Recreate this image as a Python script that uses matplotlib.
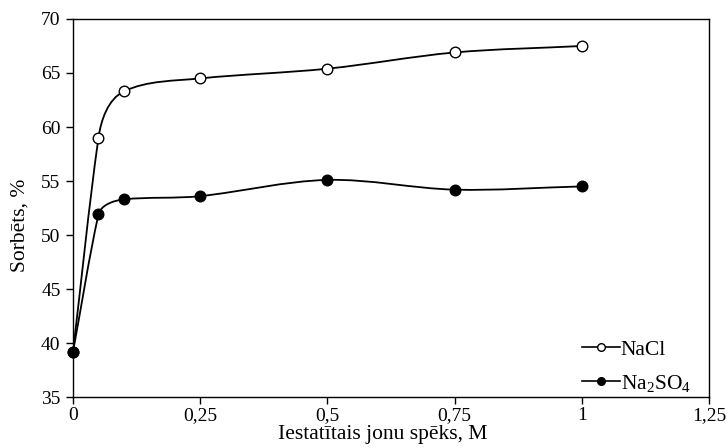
import numpy as np
import matplotlib
matplotlib.use('Agg')
import matplotlib.pyplot as plt
from matplotlib.path import Path
from matplotlib.patches import PathPatch
from matplotlib.lines import Line2D
from matplotlib.ticker import FuncFormatter

plt.rcParams['font.family'] = ['Liberation Serif', 'DejaVu Serif']
plt.rcParams['mathtext.default'] = 'regular'

# data
ionic_strength = [0, 0.05, 0.1, 0.25, 0.5, 0.75, 1.0]
nacl = [39.2, 59.0, 63.3, 64.5, 65.4, 66.9, 67.5]
na2so4 = [39.2, 51.9, 53.3, 53.6, 55.1, 54.2, 54.5]
series_labels = ['NaCl', 'Na$_2$SO$_4$']
x_ticks = [0, 0.25, 0.5, 0.75, 1.0, 1.25]
y_ticks = [35, 40, 45, 50, 55, 60, 65, 70]


def smooth_path(xs, ys, sx, sy, k=1.0):
    # bezier through the points; tangent leans to the longer neighbour segment,
    # handle length from the segment itself so short segments don't overshoot
    p = np.column_stack([np.asarray(xs) / sx, np.asarray(ys) / sy])
    n = len(p)
    tang = []
    for i in range(n):
        d = np.zeros(2)
        if i > 0:
            v = p[i] - p[i - 1]
            d += v * np.hypot(*v)
        if i < n - 1:
            v = p[i + 1] - p[i]
            d += v * np.hypot(*v)
        tang.append(d / np.hypot(*d))
    verts = [p[0]]
    codes = [Path.MOVETO]
    for i in range(n - 1):
        seg = np.hypot(*(p[i + 1] - p[i])) / 3 * k
        verts += [p[i] + tang[i] * seg, p[i + 1] - tang[i + 1] * seg, p[i + 1]]
        codes += [Path.CURVE4] * 3
    verts = np.array(verts) * [sx, sy]
    return Path(verts, codes)


fig = plt.figure(figsize=(7.28, 4.48), dpi=100)
ax = fig.add_axes([0.1003, 0.1138, 0.8737, 0.8438])

for ys, face in [(nacl, 'white'), (na2so4, 'black')]:
    path = smooth_path(ionic_strength, ys, 1.25 / 636, 35.0 / 378)
    ax.add_patch(PathPatch(path, facecolor='none', edgecolor='black', lw=1.3, zorder=2))
    ax.plot(ionic_strength, ys, 'o', ms=7.6, mfc=face, mec='black', mew=1.0,
            clip_on=False, zorder=3)

ax.set_xlim(0, 1.25)
ax.set_ylim(35, 70)
ax.set_xticks(x_ticks)
ax.set_yticks(y_ticks)
ax.xaxis.set_major_formatter(FuncFormatter(lambda v, p: ('%g' % v).replace('.', ',')))
ax.tick_params(direction='out', length=5, width=1.0, labelsize=14, colors='black', pad=2)
ax.tick_params(axis='y', pad=4)
for s in ax.spines.values():
    s.set_linewidth(1.0)

ax.set_xlabel('Iestatītais jonu spēks, M', fontsize=15.5, labelpad=-1)
ax.xaxis.set_label_coords(0.487, -0.075, transform=ax.transAxes)
ax.xaxis.label.set_va('top')
ax.set_ylabel('Sorbēts, %', fontsize=15.5)
ax.yaxis.set_label_coords(-0.069, 0.455, transform=ax.transAxes)

handles = [
    Line2D([], [], color='black', lw=1.2, marker='o', ms=5.5, mfc='white', mec='black'),
    Line2D([], [], color='black', lw=1.2, marker='o', ms=5.5, mfc='black', mec='black'),
]
ax.legend(handles, series_labels, loc='lower left', bbox_to_anchor=(0.78, -0.025),
          frameon=False, fontsize=15.5, handlelength=1.75, handletextpad=0.05,
          labelspacing=0.6, borderaxespad=0.2)

fig.savefig('out.png', dpi=100)
